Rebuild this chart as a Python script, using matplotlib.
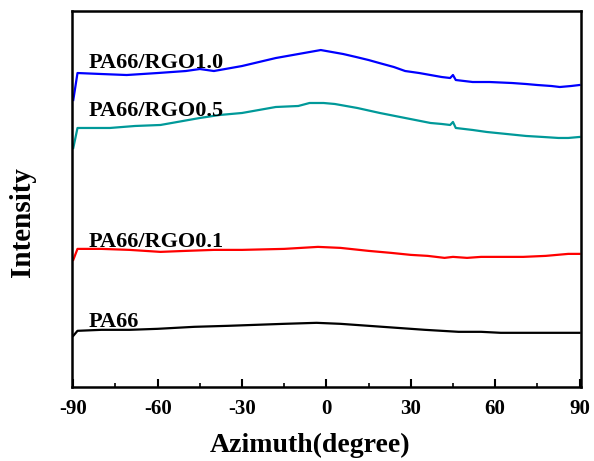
import numpy as np
import matplotlib
matplotlib.use('Agg')
import matplotlib.pyplot as plt
from matplotlib.ticker import MultipleLocator

# azimuth readings (degree) and intensity (a.u., offset curves)
az_rgo10 = [-90, -88.5, -80, -71, -60, -50, -45, -40, -30, -24, -18, -12, -6, -2, 2, 6, 10.6, 15, 18.8, 24, 28, 33, 37, 41, 44, 45, 46, 52, 58, 66, 71, 75, 80, 83, 87, 90]
int_rgo10 = [300, 327, 326, 325, 327, 329, 331, 329, 334, 338, 342, 345, 348, 350, 348, 346, 343, 340, 337, 333, 329, 327, 325, 323, 322, 325, 320, 318, 318, 317, 316, 315, 314, 313, 314, 315]

az_rgo05 = [-90, -88.5, -77, -68, -59, -45, -38, -30, -24, -18, -10, -6, -1, 3, 11, 19, 28, 37, 41, 44, 45, 46, 52, 57, 64, 71, 77, 82.5, 86, 90]
int_rgo05 = [252, 272, 272, 274, 275, 282, 285, 287, 290, 293, 294, 297, 297, 296, 292, 287, 282, 277, 276, 275, 278, 272, 270, 268, 266, 264, 263, 262, 262, 263]

az_rgo01 = [-90, -88.5, -80, -70, -59, -50, -40, -30, -15, -3, 5, 15, 23, 30, 36, 42, 45, 50, 55, 62, 70, 78, 86, 90]
int_rgo01 = [140, 151, 151, 150, 148, 149, 150, 150, 151, 153, 152, 149, 147, 145, 144, 142, 143, 142, 143, 143, 143, 144, 146, 146]

az_pa66 = [-90, -88.5, -80, -70, -60, -47, -35, -25, -15, -3.5, 5, 15, 25, 35, 47, 55, 62, 70, 80, 90]
int_pa66 = [64, 69, 70, 70, 71, 73, 74, 75, 76, 77, 76, 74, 72, 70, 68, 68, 67, 67, 67, 67]

labels = ['PA66', 'PA66/RGO0.1', 'PA66/RGO0.5', 'PA66/RGO1.0']
label_y = [73, 153, 284, 332]
colors = ['black', '#ff0000', '#009999', '#0000ff']

x_ticks = [-90, -60, -30, 0, 30, 60, 90]

plt.rcParams['font.family'] = 'Liberation Serif'
plt.rcParams['font.weight'] = 'bold'
plt.rcParams['axes.unicode_minus'] = False

fig = plt.figure(figsize=(5.94, 4.61), dpi=100)
ax = fig.add_axes([0.121, 0.161, 0.857, 0.815])

curves = [(az_pa66, int_pa66), (az_rgo01, int_rgo01), (az_rgo05, int_rgo05), (az_rgo10, int_rgo10)]
for (x, y), c, lab, ly in zip(curves, colors, labels, label_y):
    ax.plot(x, y, color=c, lw=1.6)
    ax.text(-84.7, ly, lab, fontsize=16, fontweight='bold', va='baseline', ha='left')

ax.set_xlim(-90.5, 90.5)
ax.set_ylim(13, 389)
ax.set_xticks(x_ticks)
ax.xaxis.set_minor_locator(MultipleLocator(15))
ax.set_yticks([])
ax.tick_params(axis='x', which='major', direction='in', length=6, width=1.5, labelsize=15, pad=9)
ax.tick_params(axis='x', which='minor', direction='in', length=3, width=1.2)
ax.tick_params(top=False)
for s in ax.spines.values():
    s.set_linewidth(1.8)

ax.set_xlabel('Azimuth(degree)', fontsize=20, fontweight='bold')
ax.set_ylabel('Intensity', fontsize=21, fontweight='bold')
ax.xaxis.set_label_coords(0.468, -0.123)
ax.yaxis.set_label_coords(-0.07, 0.439)

fig.savefig('out.png', dpi=100)
